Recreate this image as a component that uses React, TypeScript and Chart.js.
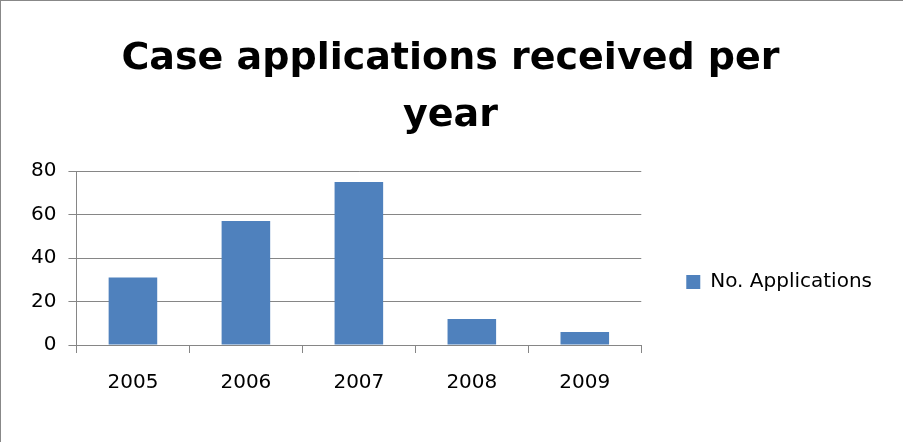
import React, { useEffect, useRef } from "react";
import { Chart, registerables } from "chart.js";

Chart.register(...registerables);

const categories: string[] = ["2005", "2006", "2007", "2008", "2009"];
const seriesName = "No. Applications";
const applications: number[] = [31, 57, 75, 12, 6];
const titleLines: string[] = ["Case applications received per", "year"];
const yMin = 0;
const yMax = 80;
const yStep = 20;

const FONT = "'DejaVu Sans', 'Open Sans', sans-serif";
const GRID = "#868686";

export default function App() {
  const ref = useRef<HTMLCanvasElement | null>(null);

  useEffect(() => {
    document.body.style.margin = "0";
    const canvas = ref.current;
    if (!canvas) return;
    const chart = new Chart(canvas, {
      type: "bar",
      data: {
        labels: categories,
        datasets: [
          {
            label: seriesName,
            data: applications,
            backgroundColor: "#4F81BD",
            borderWidth: 0,
            barPercentage: 0.43,
            categoryPercentage: 1,
          },
        ],
      },
      options: {
        responsive: false,
        animation: false,
        maintainAspectRatio: false,
        layout: { padding: { left: 18, right: 21, top: 0, bottom: 29 } },
        plugins: {
          title: {
            display: true,
            text: titleLines,
            color: "#000",
            font: { family: FONT, size: 38, weight: "bold", lineHeight: 1.5 },
            padding: { top: 30, bottom: 26 },
          },
          legend: {
            display: true,
            position: "right",
            fullSize: false,
            maxWidth: 320,
            title: {
              display: true,
              text: " ",
              font: { family: FONT, size: 10, lineHeight: 1 },
              padding: { top: 0, bottom: 38 },
            },
            labels: {
              color: "#000",
              font: { family: FONT, size: 20 },
              boxWidth: 14,
              boxHeight: 14,
              padding: 45,
            },
          },
          tooltip: { enabled: false },
        },
        scales: {
          x: {
            offset: true,
            grid: {
              offset: true,
              drawOnChartArea: false,
              drawTicks: true,
              tickLength: 8,
              color: GRID,
            },
            border: { color: GRID, width: 1 },
            ticks: {
              color: "#000",
              font: { family: FONT, size: 20 },
              padding: 18,
            },
          },
          y: {
            min: yMin,
            max: yMax,
            grid: { color: GRID, tickLength: 8, drawTicks: true },
            border: { color: GRID, width: 1 },
            ticks: {
              stepSize: yStep,
              color: "#000",
              font: { family: FONT, size: 20 },
              padding: 12,
            },
          },
        },
      },
    });
    return () => chart.destroy();
  }, []);

  return (
    <div
      style={{
        position: "fixed",
        left: 0,
        top: 0,
        width: 903,
        height: 442,
        boxSizing: "border-box",
        borderLeft: "1px solid #888",
        borderTop: "1px solid #888",
        background: "#fff",
      }}
    >
      <canvas ref={ref} width={902} height={441} style={{ display: "block" }} />
    </div>
  );
}
